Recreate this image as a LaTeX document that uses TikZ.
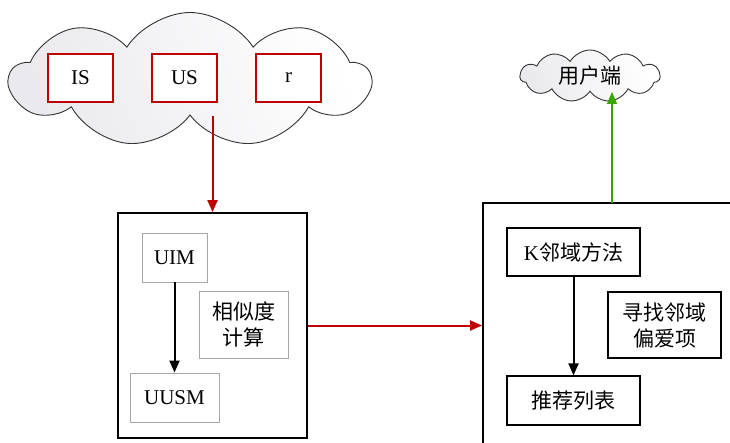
\documentclass[tikz,border=0pt]{standalone}
\usepackage{fontspec}
\setmainfont{Liberation Serif}
\newfontfamily\cjk{Noto Sans CJK SC}
\usetikzlibrary{shapes.symbols,arrows.meta}

\tikzset{
  redbox/.style={draw=red!75!black, line width=1.4pt, fill=white, minimum width=65pt, minimum height=48pt, inner sep=0pt},
  graybox/.style={draw=gray!70, line width=0.9pt, fill=white, align=center, inner sep=0pt},
  blackbox/.style={draw=black, line width=1.2pt, fill=white, align=center, inner sep=0pt},
  framebox/.style={draw=black, line width=1.8pt, inner sep=0pt},
  puff/.style={cloud, cloud puffs=9, cloud puff arc=115, draw=black!80, line width=0.9pt, aspect=2.5,
    left color=blue!10!gray!15, right color=white, shading angle=110, inner sep=0pt},
  tip/.style={-{Triangle[width=10pt,length=12pt]}}
}

\begin{document}
\begin{tikzpicture}[x=1pt,y=-1pt, font=\fontsize{21}{26}\selectfont]
\useasboundingbox (0,0) rectangle (730,443);
\clip (0,0) rectangle (730,443);
\node[puff, minimum width=360pt, minimum height=135pt] (pool) at (190,80) {};
\node[redbox] (is) at (80.5,78) {IS};
\node[redbox, line width=2pt] (us) at (184.5,78) {US};
\node[redbox] (r) at (288.5,78) {r};
\node[framebox, minimum width=189pt, minimum height=225pt] (simbox) at (212.5,325.5) {};
\node[graybox, minimum width=65pt, minimum height=49pt] (uim) at (174.5,257.5) {UIM};
\node[graybox, minimum width=89pt, minimum height=67pt] (sim) at (243.5,324.5) {\cjk 相似度\\\cjk 计算};
\node[graybox, minimum width=89pt, minimum height=49pt] (uusm) at (174.5,397.5) {UUSM};
\node[framebox, minimum width=320pt, minimum height=320pt] (knnbox) at (643,363) {};
\node[blackbox, minimum width=133pt, minimum height=48pt] (knn) at (573.5,252) {K\cjk 邻域方法};
\node[blackbox, minimum width=113pt, minimum height=66pt] (seek) at (664.5,325) {\cjk 寻找邻域\\\cjk 偏爱项};
\node[blackbox, minimum width=133pt, minimum height=49pt] (rec) at (573.5,400.5) {\cjk 推荐列表};
\node[puff, cloud puffs=11, cloud puff arc=120, minimum width=140pt, minimum height=52pt] (client) at (590,76) {\cjk 用户端};
\coordinate (up) at (612,203);
\draw[tip, red!75!black, line width=2pt] (pool.south -| simbox.north) -- (simbox.north);
\draw[tip, line width=2pt] (uim) -- (uusm.north -| uim.south);
\draw[tip, red!75!black, line width=2pt] (simbox.east) -- (simbox.east -| knnbox.west);
\draw[tip, line width=2pt] (knn) -- (rec);
\draw[tip, green!50!black!70!lime, line width=1.2pt] (up) -- (up |- client.south);
\end{tikzpicture}
\end{document}
